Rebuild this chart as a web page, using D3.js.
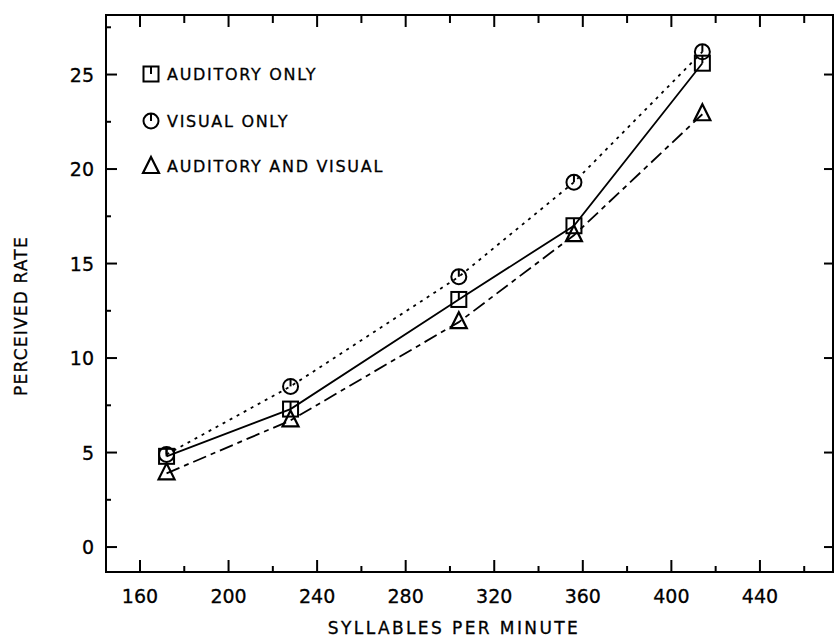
<!DOCTYPE html>
<html>
<head>
<meta charset="utf-8">
<script src="https://cdn.jsdelivr.net/npm/d3@7"></script>
<style>
  body { margin: 0; background: #fff; }
  text { font-family: "DejaVu Sans", sans-serif; fill: #000; stroke: #000; stroke-width: 0.3; }
</style>
</head>
<body>
<svg id="chart" width="834" height="640"></svg>
<script>
    var svg = d3.select("#chart"),
        width = +svg.attr("width"),
        height = +svg.attr("height");

    // syllables per minute
    var rates = [172, 228, 304, 356, 414];
    var auditoryOnly = [4.8, 7.3, 13.1, 17.0, 25.6];
    var visualOnly = [4.9, 8.5, 14.3, 19.3, 26.2];
    var auditoryVisual = [3.9, 6.7, 11.9, 16.5, 22.9];
    var xTicks = [160, 200, 240, 280, 320, 360, 400, 440];
    var yTicks = [0, 5, 10, 15, 20, 25];
    var seriesNames = ['AUDITORY ONLY', 'VISUAL ONLY', 'AUDITORY AND VISUAL'];

    var pl = 106, pr = 833, pt = 15, pb = 572;

    var x = d3.scaleLinear().domain([144.65, 473]).range([pl, pr]);
    var y = d3.scaleLinear().domain([-1.32, 28.15]).range([pb, pt]);

    // frame
    svg.append("rect")
        .attr("x", pl).attr("y", pt)
        .attr("width", pr - pl).attr("height", pb - pt)
        .attr("fill", "none").attr("stroke", "#000").attr("stroke-width", 2);

    var xMinor = d3.range(160, 471, 20);
    var yMinor = d3.range(0, 28.1, 2.5);

    // bottom ticks (inward)
    svg.append("g").selectAll("line").data(xMinor).enter().append("line")
        .attr("x1", function(d) { return x(d); })
        .attr("x2", function(d) { return x(d); })
        .attr("y1", pb)
        .attr("y2", function(d) { return pb - (d % 40 == 0 ? 12 : 6); })
        .attr("stroke", "#000").attr("stroke-width", 2);

    // top ticks
    svg.append("g").selectAll("line").data(xMinor).enter().append("line")
        .attr("x1", function(d) { return x(d); })
        .attr("x2", function(d) { return x(d); })
        .attr("y1", pt)
        .attr("y2", function(d) { return pt + (d % 40 == 0 ? 12 : 8); })
        .attr("stroke", "#000").attr("stroke-width", 2);

    // left ticks
    svg.append("g").selectAll("line").data(yMinor).enter().append("line")
        .attr("x1", pl)
        .attr("x2", function(d) { return pl + (d % 5 == 0 ? 11 : 5); })
        .attr("y1", function(d) { return y(d); })
        .attr("y2", function(d) { return y(d); })
        .attr("stroke", "#000").attr("stroke-width", 2);

    // right ticks
    svg.append("g").selectAll("line").data(yTicks).enter().append("line")
        .attr("x1", pr)
        .attr("x2", pr - 9)
        .attr("y1", function(d) { return y(d); })
        .attr("y2", function(d) { return y(d); })
        .attr("stroke", "#000").attr("stroke-width", 2);

    // tick labels
    svg.append("g").selectAll("text").data(xTicks).enter().append("text")
        .attr("x", function(d) { return x(d); })
        .attr("y", pb + 31)
        .attr("text-anchor", "middle")
        .attr("font-size", 19)
        .text(function(d) { return d; });

    svg.append("g").selectAll("text").data(yTicks).enter().append("text")
        .attr("x", pl - 12)
        .attr("y", function(d) { return y(d) + 7; })
        .attr("text-anchor", "end")
        .attr("font-size", 19)
        .text(function(d) { return d; });

    // axis titles
    svg.append("text")
        .attr("x", 454).attr("y", 634)
        .attr("text-anchor", "middle")
        .attr("font-size", 17)
        .attr("letter-spacing", 2.4)
        .text("SYLLABLES PER MINUTE");

    svg.append("text")
        .attr("transform", "translate(27,316) rotate(-90)")
        .attr("text-anchor", "middle")
        .attr("font-size", 17)
        .attr("letter-spacing", 1.2)
        .text("PERCEIVED RATE");

    // markers
    function square(g, cx, cy) {
        g.append("rect").attr("x", cx - 7.5).attr("y", cy - 7.5)
            .attr("width", 15).attr("height", 15)
            .attr("fill", "none").attr("stroke", "#000").attr("stroke-width", 2);
        g.append("line").attr("x1", cx).attr("x2", cx)
            .attr("y1", cy - 7.5).attr("y2", cy)
            .attr("stroke", "#000").attr("stroke-width", 2);
    }
    function circle(g, cx, cy) {
        g.append("circle").attr("cx", cx).attr("cy", cy).attr("r", 7.5)
            .attr("fill", "none").attr("stroke", "#000").attr("stroke-width", 2);
        g.append("line").attr("x1", cx).attr("x2", cx)
            .attr("y1", cy - 7.5).attr("y2", cy)
            .attr("stroke", "#000").attr("stroke-width", 2);
    }
    function triangle(g, cx, cy) {
        g.append("path")
            .attr("d", "M" + cx + "," + (cy - 10) + "L" + (cx + 8) + "," + (cy + 6) + "L" + (cx - 8) + "," + (cy + 6) + "Z")
            .attr("fill", "none").attr("stroke", "#000").attr("stroke-width", 2.2)
            .attr("stroke-linejoin", "miter");
    }

    var series = [
        { name: seriesNames[0], values: auditoryOnly, dash: null, marker: square },
        { name: seriesNames[1], values: visualOnly, dash: "3,5", marker: circle },
        { name: seriesNames[2], values: auditoryVisual, dash: "14,5,5,5", marker: triangle }
    ];

    var line = d3.line()
        .x(function(d, i) { return x(rates[i]); })
        .y(function(d) { return y(d); });

    series.forEach(function(s) {
        svg.append("path")
            .datum(s.values)
            .attr("d", line)
            .attr("fill", "none")
            .attr("stroke", "#000")
            .attr("stroke-width", 1.8)
            .attr("stroke-dasharray", s.dash);
    });

    series.forEach(function(s) {
        var g = svg.append("g");
        s.values.forEach(function(v, i) {
            s.marker(g, x(rates[i]), y(v));
        });
    });

    // legend
    var legendY = [74, 121, 166];
    series.forEach(function(s, i) {
        var g = svg.append("g");
        s.marker(g, 151, legendY[i] - (i == 2 ? -1 : 0));
        g.append("text")
            .attr("x", 167).attr("y", legendY[i] + 6)
            .attr("font-size", 16)
            .attr("letter-spacing", 1.7)
            .text(s.name);
    });
</script>
</body>
</html>
